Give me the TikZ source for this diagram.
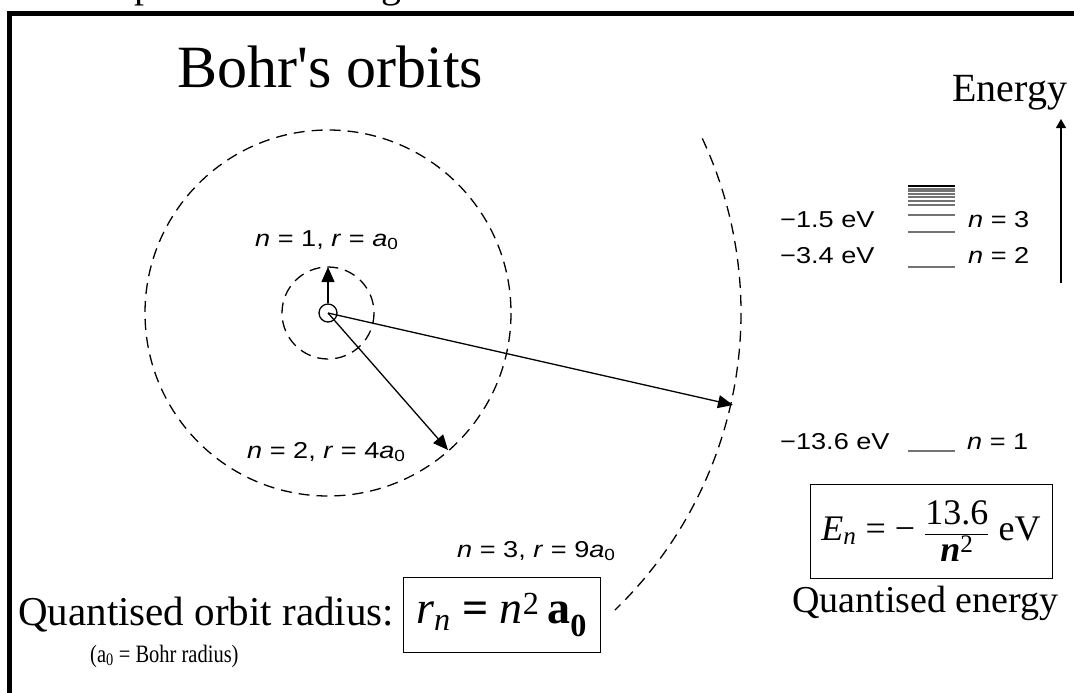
\documentclass[tikz,border=0pt]{standalone}
\usepackage{fontspec}
\setmainfont{Liberation Serif}
\newfontfamily\arial{Liberation Sans}
\usetikzlibrary{arrows.meta}
\newcommand{\wide}[1]{\scalebox{1.18}[1]{#1}}
\begin{document}
\begin{tikzpicture}[x=1pt,y=-1pt,
  orbit/.style={draw, dash pattern=on 11pt off 7pt, line width=1.3pt},
  ray/.style={line width=1.3pt, -{Triangle[length=15pt,width=13pt]}},
  lvl/.style={draw=black!55, line width=1.5pt},
  lab/.style={inner sep=0pt, anchor=base west, font=\arial\fontsize{23}{26}\selectfont},
  serif/.style={inner sep=0pt, anchor=base west},
  fbox/.style={draw, line width=1pt, inner sep=0pt}
]
\useasboundingbox (0,0) rectangle (1074,693);
\clip (0,0) rectangle (1074,693);
\fill[white] (0,0) rectangle (1074,693);
% frame
\draw[line width=5pt] (9.5,700) -- (9.5,14) -- (1080,14);
% cut-off text above frame
\node[serif, font=\fontsize{40}{44}\selectfont] (cutp) at (134,-2) {p};
\node[serif, font=\fontsize{40}{44}\selectfont] (cutg) at (381,-2) {g};
% title
\node[serif, font=\fontsize{60}{66}\selectfont] (title) at (177,88) {Bohr\textquotesingle s orbits};
% orbits
\coordinate (c) at (328,313);
\node[draw, circle, line width=1.3pt, minimum size=18pt, inner sep=0pt] (nuc) at (c) {};
\draw[orbit] (c) circle[radius=46];
\draw[orbit] (c) circle[radius=183];
\draw[orbit] (c) ++(-25:413) arc[start angle=-25, end angle=46, radius=413];
\coordinate (o1) at (328,267);
\coordinate (o2) at (448,450);
\coordinate (o3) at (733,405);
\draw[ray] (nuc.north) -- (o1);
\draw[ray] (c) -- (o2);
\draw[ray] (c) -- (o3);
% orbit labels
\node[lab] (l1) at (255,246) {\wide{\textit{n} = 1, \textit{r} = \textit{a}\textsubscript{0}}};
\node[lab] (l2) at (247,458) {\wide{\textit{n} = 2, \textit{r} = 4\textit{a}\textsubscript{0}}};
\node[lab] (l3) at (457,557) {\wide{\textit{n} = 3, \textit{r} = 9\textit{a}\textsubscript{0}}};
% energy axis
\node[serif, font=\fontsize{40}{44}\selectfont] (energy) at (952,101) {Energy};
\coordinate (ebot) at (1061,283);
\coordinate (etop) at (1061,119);
\draw[line width=1.2pt, -{Triangle[length=9pt,width=10pt]}] (ebot) -- (etop);
% energy levels
\draw[line width=2.5pt] (908,186) -- (955,186);
\foreach \yy in {189,191,194,197,201,205,215,232,267,451}
  \draw[lvl] (908,\yy) -- (955,\yy);
\node[lab] (e3) at (780,227) {\wide{−1.5 eV}};
\node[lab] (n3) at (968,227) {\wide{\textit{n} = 3}};
\node[lab] (e2) at (780,263) {\wide{−3.4 eV}};
\node[lab] (n2) at (968,263) {\wide{\textit{n} = 2}};
\node[lab] (e1) at (780,449) {\wide{−13.6 eV}};
\node[lab] (n1) at (967,449) {\wide{\textit{n} = 1}};
% energy formula
\node[fbox, minimum width=242pt, minimum height=94pt] (ebox) at (931,531) {};
\node[inner sep=0pt, font=\fontsize{36}{40}\selectfont] (eform) at (ebox) {\textit{E}\textsubscript{\textit{n}} = − $\displaystyle\frac{\mbox{13.6}}{\mbox{\bfseries\itshape n\textsuperscript{\mdseries\upshape 2}}}$ eV};
\node[serif, font=\fontsize{38}{42}\selectfont] (qe) at (792,612) {Quantised energy};
% radius formula
\node[serif, font=\fontsize{41}{45}\selectfont] (qr) at (18,625) {Quantised orbit radius:};
\node[serif, font=\fontsize{25}{28}\selectfont] (bohr) at (90,662) {\scalebox{0.82}[1]{(a\textsubscript{0} = Bohr radius)}};
\node[fbox, minimum width=197pt, minimum height=75pt] (rbox) at (501.5,615) {};
\node[inner sep=0pt, font=\fontsize{46}{50}\selectfont] (rform) at (rbox) {\textit{r}\textsubscript{\textit{n}} \textbf{=} \textit{n}\textsuperscript{2}\,\textbf{a}\textsubscript{\bfseries 0}};
\end{tikzpicture}
\end{document}
